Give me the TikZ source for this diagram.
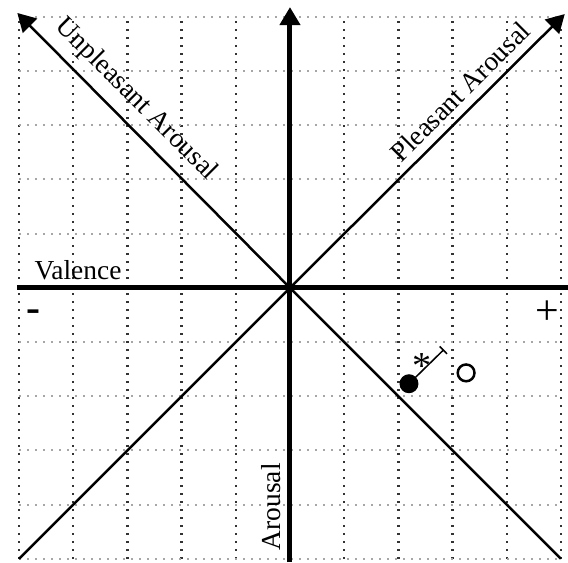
\documentclass[tikz,border=0pt]{standalone}
\usepackage{fontspec}
\setmainfont{Liberation Serif}
\usetikzlibrary{arrows.meta}
\begin{document}
\begin{tikzpicture}[
  vgrid/.style={line width=1.2pt, black!80, dash pattern=on 0.9pt off 3.3pt},
  hgrid/.style={line width=1.1pt, black!35, dash pattern=on 0.9pt off 3.3pt},
  axis/.style={line width=2.6pt},
  diag/.style={line width=1.3pt},
  lbl/.style={font=\fontsize{14.4}{16}\selectfont, inner sep=0pt},
  big/.style={font=\fontsize{22}{24}\selectfont, inner sep=0pt},
  tip/.style={-{Triangle[length=9.5pt,width=10.5pt]}},
]
\useasboundingbox (-5.35,-5.06) rectangle (5.13,5.31);
% grid
\foreach \x in {-5,-4,...,5} \draw[vgrid] (\x,-5) -- (\x,5);
\foreach \y in {-5,-4,...,5} \draw[hgrid] (-5,\y) -- (5,\y);
% coordinates
\coordinate (O) at (0,0);
\coordinate (UL) at (-5.03,5.07);
\coordinate (UR) at (5.07,5.05);
\coordinate (LL) at (-5,-5);
\coordinate (LR) at (5,-5);
\coordinate (XL) at (-5.04,0);
\coordinate (XR) at (5.13,0);
\coordinate (YB) at (0,-5.06);
\coordinate (YT) at (0,5.18);
% diagonals
\draw[diag,tip] (O) -- (UL);
\draw[diag,tip] (O) -- (UR);
\draw[diag] (O) -- (LL);
\draw[diag] (O) -- (LR);
% axes
\draw[axis] (XL) -- (XR);
\draw[axis,tip] (YB) -- (YT);
% labels
\node[lbl, rotate=-45] (unp) at (-2.84,3.47) {Unpleasant Arousal};
\node[lbl, rotate=45] (ple) at (3.14,3.62) {Pleasant Arousal};
\node[lbl] (val) at (-3.91,0.33) {Valence};
\node[lbl, rotate=90] (aro) at (-0.35,-4.04) {Arousal};
\node[big] (minus) at (-4.74,-0.52) {\bfseries -};
\node[big] (plus) at (4.74,-0.45) {+};
% data points
\node[circle, fill=black, inner sep=0pt, minimum size=0.35cm] (fc) at (2.196,-1.77) {};
\node[circle, draw=black, line width=1.3pt, inner sep=0pt, minimum size=0.31cm] (oc) at (3.25,-1.57) {};
\coordinate (eb) at (2.84,-1.14);
\draw[line width=0.8pt, -{Bar[width=5.5pt]}] (fc.center) -- (eb);
\node[font=\fontsize{20}{22}\selectfont, inner sep=0pt] (ast) at (2.44,-1.45) {*};
\end{tikzpicture}
\end{document}
